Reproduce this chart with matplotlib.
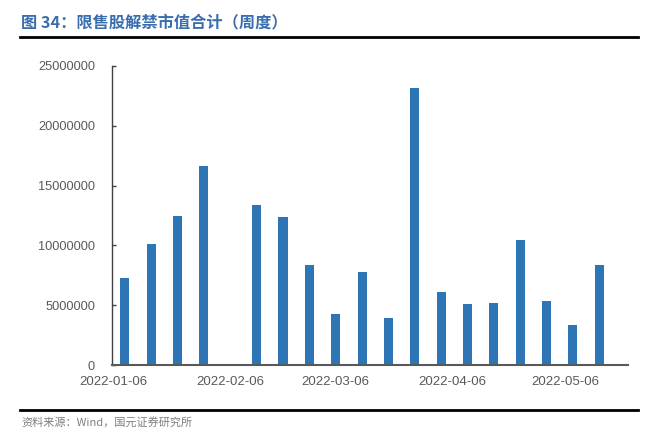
import matplotlib
matplotlib.use("Agg")
import matplotlib.pyplot as plt
import matplotlib.dates as mdates
import numpy as np
import datetime as dt

plt.rcParams['font.family'] = ['Liberation Sans', 'Noto Sans CJK SC', 'DejaVu Sans']

# weekly dates (Sundays) and values
dates = [dt.date(2022, 1, 9) + dt.timedelta(days=7 * i) for i in range(19)]
values = [7300000, 10100000, 12500000, 16600000, 0,
          13350000, 12350000, 8360000, 4260000, 7750000,
          3960000, 23200000, 6100000, 5070000, 5200000,
          10450000, 5350000, 3340000, 8360000]
tick_dates = [dt.date(2022, 1, 6), dt.date(2022, 2, 6), dt.date(2022, 3, 6),
              dt.date(2022, 4, 6), dt.date(2022, 5, 6)]
tick_labels = [d.strftime('%Y-%m-%d') for d in tick_dates]
yticks = [0, 5000000, 10000000, 15000000, 20000000, 25000000]

title = '图 34：限售股解禁市值合计（周度）'
source = '资料来源：Wind，国元证券研究所'

W, H = 666, 443
fig = plt.figure(figsize=(W / 100, H / 100), dpi=100)
ax = fig.add_axes([111.7 / W, 1 - 365 / H, (627.5 - 111.7) / W, (365 - 66) / H])

ax.bar(mdates.date2num(dates), values, width=2.4, color='#2E75B6', zorder=2)

ax.set_xlim(mdates.date2num(dt.datetime(2022, 1, 5, 12)), mdates.date2num(dt.datetime(2022, 5, 22, 12)))
ax.set_ylim(0, 25000000)
ax.set_yticks(yticks)
ax.set_yticklabels([str(v) for v in yticks])
ax.set_xticks(mdates.date2num(tick_dates))
ax.set_xticklabels(tick_labels)

for s in ['top', 'right']:
    ax.spines[s].set_visible(False)
ax.spines['left'].set_color('#404040')
ax.spines['bottom'].set_color('#595959')
ax.spines['left'].set_linewidth(1.0)
ax.spines['bottom'].set_linewidth(1.5)
ax.tick_params(axis='y', direction='in', length=3, width=1, color='#404040',
               labelsize=9.2, labelcolor='#595959', pad=12)
ax.tick_params(axis='x', length=0, labelsize=9.5, labelcolor='#595959', pad=8)

fig.text(21 / W, 1 - 22 / H, title, fontsize=11.7, fontweight='bold', color='#3A6EAE',
         family=['Noto Sans CJK SC', 'DejaVu Sans'], va='center', ha='left')
fig.add_artist(plt.Line2D([20 / W, 638 / W], [1 - 37 / H, 1 - 37 / H], color='black', lw=2))
fig.add_artist(plt.Line2D([20 / W, 638 / W], [1 - 410 / H, 1 - 410 / H], color='black', lw=2))
fig.text(21 / W, 1 - 422 / H, source, fontsize=8, color='#7F7F7F',
         family=['Noto Sans CJK SC', 'DejaVu Sans'], va='center', ha='left')

fig.savefig('out.png', dpi=100)
